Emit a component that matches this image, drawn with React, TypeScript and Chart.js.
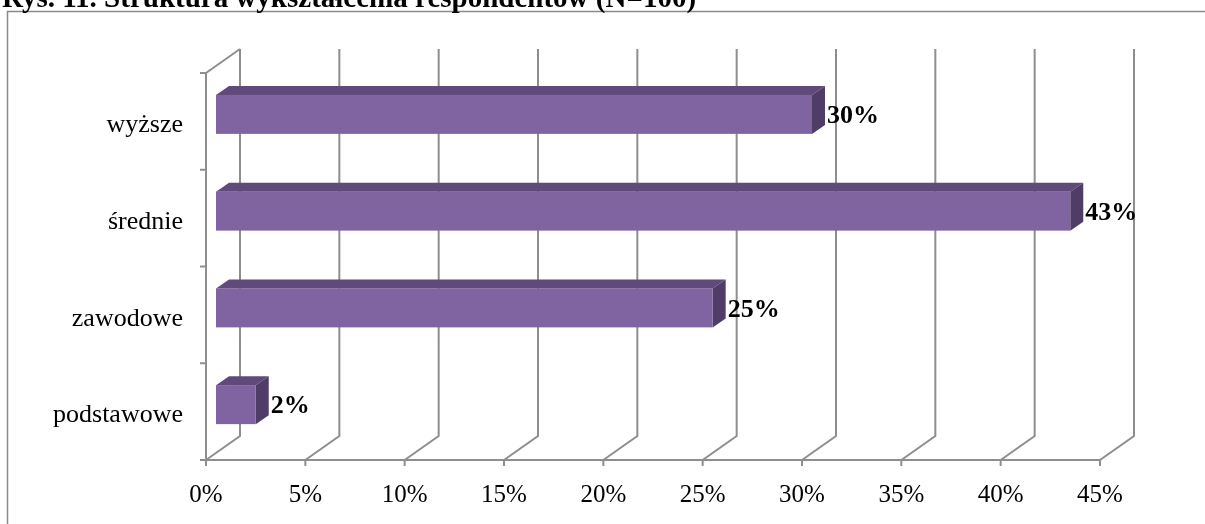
import React, { useEffect, useRef } from "react";
import { Chart, registerables } from "chart.js";

Chart.register(...registerables);

// Education levels, listed top to bottom
const categories: string[] = ["wyższe", "średnie", "zawodowe", "podstawowe"];
// Share of respondents per level, in percent
const shares: number[] = [30, 43, 25, 2];
// Value axis range and step, in percent
const axisMin = 0;
const axisMax = 45;
const axisStep = 5;
const titleText = "Rys. 11. Struktura wykształcenia respondentów (N=100)";

const SERIF = '"Liberation Serif", "Times New Roman", serif';

// 3D projection offsets (pixels)
const WALL = { dx: 34, dy: -24 }; // front plane -> back wall
const BAR_FRONT = { dx: 10, dy: -7 }; // front plane -> bar front face
const BAR_DEPTH = { dx: 13, dy: -9 }; // bar front face -> bar back face

const GRID = "#8e8e8e";
const FACE = "#8064a2";
const TOP = "#604a7b";
const SIDE = "#4f3d67";

const frame3d = {
  id: "frame3d",
  beforeDraw(chart: any) {
    const ctx = chart.ctx;
    ctx.save();
    // outer frame of the figure
    ctx.strokeStyle = "#8a8a8a";
    ctx.lineWidth = 1.5;
    ctx.beginPath();
    ctx.moveTo(7.5, chart.height);
    ctx.lineTo(7.5, 11.5);
    ctx.lineTo(chart.width, 11.5);
    ctx.stroke();
    // figure caption (runs off the top edge)
    ctx.fillStyle = "#000";
    ctx.font = `bold 29px ${SERIF}`;
    ctx.textAlign = "left";
    ctx.textBaseline = "alphabetic";
    ctx.fillText(titleText, 2, 7);
    ctx.restore();
  },
  beforeDatasetsDraw(chart: any) {
    const ctx = chart.ctx;
    const xs = chart.scales.x;
    const ys = chart.scales.y;
    const { top, bottom, left, right } = chart.chartArea;
    ctx.save();
    ctx.strokeStyle = GRID;
    ctx.lineWidth = 2;
    ctx.lineJoin = "miter";
    // floor diagonals + back wall gridlines
    xs.ticks.forEach((t: any) => {
      const px = xs.getPixelForValue(t.value);
      ctx.beginPath();
      ctx.moveTo(px, bottom);
      ctx.lineTo(px + WALL.dx, bottom + WALL.dy);
      ctx.lineTo(px + WALL.dx, top + WALL.dy);
      ctx.stroke();
      ctx.beginPath();
      ctx.moveTo(px, bottom);
      ctx.lineTo(px, bottom + 6);
      ctx.stroke();
    });
    // front edge of the floor
    ctx.beginPath();
    ctx.moveTo(left - 6, bottom);
    ctx.lineTo(right, bottom);
    ctx.stroke();
    // left wall edge
    ctx.beginPath();
    ctx.moveTo(left, bottom);
    ctx.lineTo(left, top);
    ctx.lineTo(left + WALL.dx, top + WALL.dy);
    ctx.stroke();
    // category dividers on the value axis side
    const band = ys.getPixelForValue(1) - ys.getPixelForValue(0);
    for (let i = 0; i <= categories.length; i++) {
      const y = ys.getPixelForValue(0) - band / 2 + i * band;
      ctx.beginPath();
      ctx.moveTo(left - 6, y);
      ctx.lineTo(left, y);
      ctx.stroke();
    }
    ctx.restore();
  },
  afterDatasetsDraw(chart: any) {
    const ctx = chart.ctx;
    const meta = chart.getDatasetMeta(0);
    const data = chart.data.datasets[0].data as number[];
    ctx.save();
    meta.data.forEach((bar: any, i: number) => {
      const p = bar.getProps(["x", "y", "base", "height"], true);
      const L = p.base + BAR_FRONT.dx;
      const R = p.x + BAR_FRONT.dx;
      const T = p.y - p.height / 2 + BAR_FRONT.dy;
      const B = p.y + p.height / 2 + BAR_FRONT.dy;
      const { dx, dy } = BAR_DEPTH;
      // top face
      ctx.fillStyle = TOP;
      ctx.beginPath();
      ctx.moveTo(L, T);
      ctx.lineTo(L + dx, T + dy);
      ctx.lineTo(R + dx, T + dy);
      ctx.lineTo(R, T);
      ctx.closePath();
      ctx.fill();
      // side face
      ctx.fillStyle = SIDE;
      ctx.beginPath();
      ctx.moveTo(R, T);
      ctx.lineTo(R + dx, T + dy);
      ctx.lineTo(R + dx, B + dy);
      ctx.lineTo(R, B);
      ctx.closePath();
      ctx.fill();
      // front face
      ctx.fillStyle = FACE;
      ctx.fillRect(L, T, R - L, B - T);
      // value label
      ctx.fillStyle = "#000";
      ctx.font = `bold 26px ${SERIF}`;
      ctx.textAlign = "left";
      ctx.textBaseline = "middle";
      ctx.fillText(`${data[i]}%`, R + dx + 2, (T + B) / 2 + 2);
    });
    ctx.restore();
  },
};

export default function App() {
  const ref = useRef<HTMLCanvasElement | null>(null);

  useEffect(() => {
    if (!ref.current) return;
    const chart = new Chart(ref.current, {
      type: "bar",
      data: {
        labels: categories,
        datasets: [
          {
            data: shares,
            backgroundColor: "rgba(0,0,0,0)",
            borderWidth: 0,
            barThickness: 39,
          },
        ],
      },
      options: {
        indexAxis: "y",
        responsive: false,
        animation: false,
        events: [],
        layout: { padding: { top: 73, right: 105, left: 0, bottom: 0 } },
        plugins: {
          legend: { display: false },
          tooltip: { enabled: false },
          title: { display: false },
        },
        scales: {
          x: {
            type: "linear",
            min: axisMin,
            max: axisMax,
            grid: { display: false, drawTicks: false, tickLength: 0 },
            border: { display: false },
            ticks: {
              stepSize: axisStep,
              padding: 20,
              color: "#000",
              font: { family: SERIF, size: 25 },
              callback: (v: any) => `${v}%`,
              maxRotation: 0,
              autoSkip: false,
            },
            afterFit: (s: any) => {
              s.height = 64;
            },
          },
          y: {
            type: "category",
            grid: { display: false, drawTicks: false, tickLength: 0 },
            border: { display: false },
            ticks: {
              padding: 23,
              labelOffset: 4,
              color: "#000",
              font: { family: SERIF, size: 26 },
            },
            afterFit: (s: any) => {
              s.width = 206;
            },
          },
        },
      },
      plugins: [frame3d],
    });
    return () => chart.destroy();
  }, []);

  return (
    <div style={{ position: "absolute", left: 0, top: 0, width: 1205, height: 524, background: "#fff" }}>
      <canvas ref={ref} width={1205} height={524} style={{ display: "block" }} />
    </div>
  );
}
